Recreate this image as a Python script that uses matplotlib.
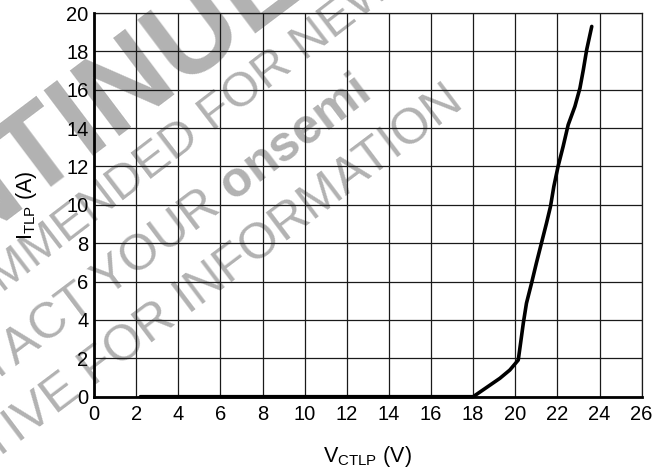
import matplotlib
matplotlib.use("Agg")
import matplotlib.pyplot as plt

plt.rcParams['font.family'] = ['Liberation Sans', 'DejaVu Sans']
plt.rcParams['mathtext.fontset'] = 'custom'
plt.rcParams['mathtext.rm'] = 'Liberation Sans'
plt.rcParams['mathtext.bf'] = 'Liberation Sans:bold'

# TLP I-V curve
v_ctlp = [2.2, 18.0, 19.27, 19.74, 20.14, 20.25, 20.38, 20.53, 20.77, 21.0,
          21.24, 21.48, 21.67, 21.83, 22.03, 22.27, 22.51, 22.83, 23.07, 23.23,
          23.39, 23.63]
i_tlp = [0, 0, 0.96, 1.39, 1.91, 2.78, 3.83, 4.87, 5.91, 6.96,
         8.0, 9.04, 9.91, 10.96, 12.0, 13.04, 14.17, 15.13, 16.09, 17.04,
         18.09, 19.3]

x_ticks = list(range(0, 27, 2))
y_ticks = list(range(0, 21, 2))

W, H = 668, 473
fig = plt.figure(figsize=(W / 100, H / 100), dpi=100)
ax = fig.add_axes([0.1407, 0.1613, 0.8199, 0.8112])
ax.set_facecolor('none')

# watermark lines (text, baseline centre in px, angle, size, weight)
wm = '#b2b2b2'
marks = [
    ('DISCONTINUED', 20, 205, 37, 85, 'bold'),
    ('NOT RECOMMENDED FOR NEW DESIGN', 176, 159, 37.5, 35, 'normal'),
    ('CONTACT YOUR $\\mathbf{onsemi}$', 137, 275, 37, 36, 'normal'),
    ('REPRESENTATIVE FOR INFORMATION', 97, 384, 37, 36, 'normal'),
]
for txt, px, py, ang, fs, fw in marks:
    fig.text(px / W, 1 - py / H, txt, rotation=ang, rotation_mode='anchor',
             ha='center', va='baseline', fontsize=fs, fontweight=fw,
             color=wm, zorder=-1)

ax.plot(v_ctlp, i_tlp, color='black', lw=2.6, solid_capstyle='round',
        solid_joinstyle='round', zorder=4, clip_on=False)

ax.set_xlim(0, 26)
ax.set_ylim(0, 20)
ax.set_xticks(x_ticks)
ax.set_yticks(y_ticks)
ax.grid(True, color='#1a1a1a', lw=0.9)
ax.tick_params(length=0, labelsize=14.5)
ax.tick_params(axis='x', pad=6)
ax.tick_params(axis='y', pad=4)

for s in ['top', 'right']:
    ax.spines[s].set_linewidth(0.9)
    ax.spines[s].set_color('#1a1a1a')
for s in ['left', 'bottom']:
    ax.spines[s].set_linewidth(2.0)
    ax.spines[s].set_zorder(5)

ax.set_xlabel('V$_{\\mathrm{CTLP}}$ (V)', fontsize=15.5, va='center')
ax.xaxis.set_label_coords(0.5, -0.157)
ax.set_ylabel('I$_{\\mathrm{TLP}}$ (A)', fontsize=15.5, va='center')
ax.yaxis.set_label_coords(-0.124, 0.5)

fig.savefig('out.png', dpi=100)
